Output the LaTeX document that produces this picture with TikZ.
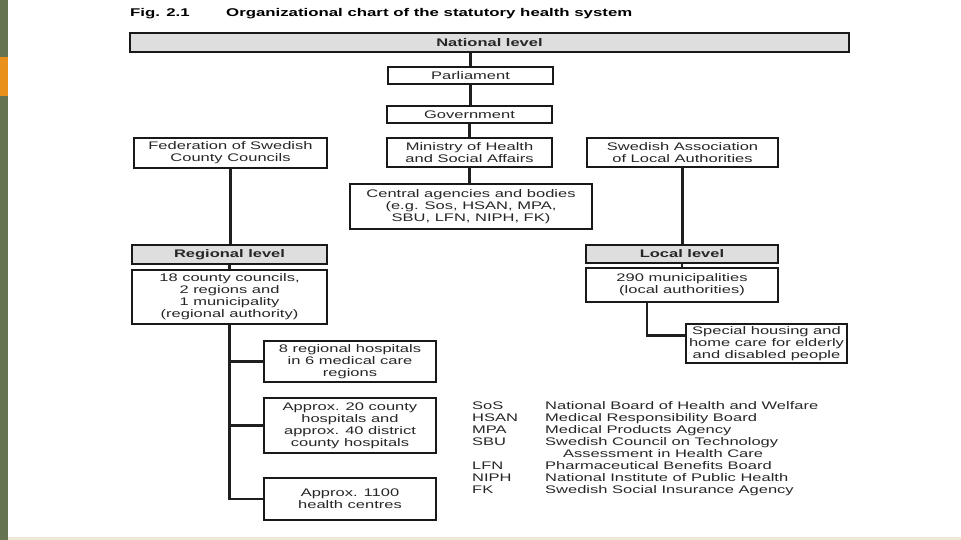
\documentclass[tikz,border=0pt]{standalone}
\usepackage{fontspec}
\setmainfont[FakeStretch=1.5]{Liberation Sans}
\usepackage{xcolor}
\usetikzlibrary{calc}
\usetikzlibrary{positioning}
\definecolor{slidebar}{HTML}{667350}
\definecolor{slideorange}{HTML}{E8901A}
\definecolor{slidefoot}{HTML}{ECE9D6}

\begin{document}
\begin{tikzpicture}[x=1pt, y=-1pt,
  box/.style={draw=black!90, line width=1.5pt, fill=white, align=center, inner sep=0pt,
              font=\fontsize{11}{12}\selectfont, text=black!85},
  lvl/.style={box, fill=black!13, font=\fontsize{11}{12}\selectfont\bfseries},
  ttl/.style={anchor=base west, inner sep=0pt, font=\fontsize{11.2}{12}\selectfont\bfseries},
  ln/.style={line width=2.2pt, black!88}]
\useasboundingbox (0,0) rectangle (961,540);
\fill[slidebar] (0,0) rectangle (8,540);
\fill[slideorange] (0,57) rectangle (8,96);
\fill[slidefoot] (8,537) rectangle (961,540);
% title
\node[ttl] (fig) at (130,17) {Fig. 2.1};
\node[ttl] (title) at (226,17) {Organizational chart of the statutory health system};
% national level
\node[lvl, minimum width=719, minimum height=19] (nat) at (489.5,42.5) {National level};
\node[box, minimum width=165, minimum height=17] (parl) at (470.5,75.5) {Parliament};
\node[box, minimum width=165, minimum height=17] (gov) at (469.5,114.5) {Government};
\node[box, minimum width=165, minimum height=29] (min) at (469.5,152.5) {Ministry of Health\\ and Social Affairs};
\node[box, minimum width=242, minimum height=45] (cab) at (471,206.5) {Central agencies and bodies\\ (e.g. Sos, HSAN, MPA,\\ SBU, LFN, NIPH, FK)};
\node[box, minimum width=193, minimum height=30] (fed) at (230.5,153) {Federation of Swedish\\ County Councils};
\node[box, minimum width=191, minimum height=29] (sala) at (682.5,152.5) {Swedish Association\\ of Local Authorities};
% regional level
\node[lvl, minimum width=195, minimum height=19] (reg) at (229.5,254.5) {Regional level};
\node[box, minimum width=195, minimum height=54] (cc) at (229.5,297) {18 county councils,\\ 2 regions and\\ 1 municipality\\ (regional authority)};
\node[box, minimum width=172, minimum height=41] (rh) at (350,361.5) {8 regional hospitals\\ in 6 medical care\\ regions};
\node[box, minimum width=172, minimum height=55] (ch) at (350,425.5) {Approx. 20 county\\ hospitals and\\ approx. 40 district\\ county hospitals};
\node[box, minimum width=172, minimum height=42] (hc) at (350,499) {Approx. 1100\\ health centres};
% local level
\node[lvl, minimum width=192, minimum height=18] (loc) at (682,254) {Local level};
\node[box, minimum width=192, minimum height=34] (mun) at (682,285) {290 municipalities\\ (local authorities)};
\node[box, minimum width=161, minimum height=39] (care) at (766.5,343.5) {Special housing and\\ home care for elderly\\ and disabled people};
\coordinate (mj) at ([xshift=-35pt]mun.south);
% connectors
\draw[ln] (parl.north) -- (parl.north |- nat.south);
\draw[ln] (parl.south) -- (parl.south |- gov.north);
\draw[ln] (gov.south) -- (gov.south |- min.north);
\draw[ln] (min.south) -- (min.south |- cab.north);
\draw[ln] (fed.south) -- (fed.south |- reg.north);
\draw[ln] (reg.south) -- (reg.south |- cc.north);
\draw[ln] (cc.south) |- (hc.west);
\draw[ln] (cc.south |- rh.west) -- (rh.west);
\draw[ln] (cc.south |- ch.west) -- (ch.west);
\draw[ln] (sala.south) -- (sala.south |- loc.north);
\draw[ln] (loc.south) -- (loc.south |- mun.north);
\draw[ln] (mj) |- ([yshift=8pt]care.west);
% abbreviations
\node[anchor=north west, inner sep=0pt, align=left, text=black!85, font=\fontsize{11}{12}\selectfont] (abbr) at (472,401)
  {\begin{tabular}{@{}p{73pt}@{}l@{}}
   SoS & National Board of Health and Welfare\\
   HSAN & Medical Responsibility Board\\
   MPA & Medical Products Agency\\
   SBU & Swedish Council on Technology\\
       & \hspace*{18pt}Assessment in Health Care\\
   LFN & Pharmaceutical Benefits Board\\
   NIPH & National Institute of Public Health\\
   FK & Swedish Social Insurance Agency
   \end{tabular}};
\end{tikzpicture}
\end{document}
